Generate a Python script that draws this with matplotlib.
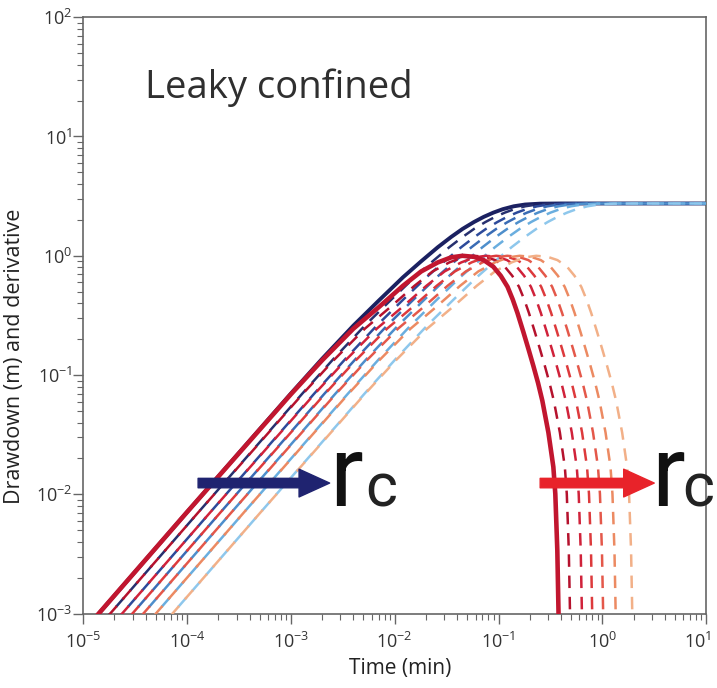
import matplotlib
matplotlib.use("Agg")
import matplotlib.pyplot as plt
from matplotlib.patches import FancyArrowPatch
from matplotlib.ticker import FixedLocator, LogLocator, NullFormatter
from matplotlib.transforms import ScaledTranslation

plt.rcParams['font.family'] = ['Open Sans', 'DejaVu Sans']
plt.rcParams['mathtext.fontset'] = 'custom'
plt.rcParams['mathtext.rm'] = 'Open Sans'
plt.rcParams['mathtext.it'] = 'Open Sans:italic'
plt.rcParams['mathtext.bf'] = 'Open Sans:bold'

# reference curve (smallest rc): drawdown
time_s = [1.0e-5, 1.0e-4, 1.0e-3, 2.0e-3, 4.0e-3, 7.0e-3, 1.2e-2, 1.8e-2, 2.6e-2,
          3.5e-2, 4.5e-2, 5.8e-2, 7.2e-2, 8.9e-2, 0.11, 0.14, 0.18, 0.25, 0.4, 10.0]
drawdown = [7.1e-4, 7.1e-3, 0.070, 0.137, 0.26, 0.42, 0.66, 0.90, 1.18,
            1.44, 1.68, 1.92, 2.12, 2.30, 2.46, 2.60, 2.69, 2.735, 2.745, 2.745]

# reference curve (smallest rc): derivative
time_d = [1.0e-5, 1.0e-4, 1.0e-3, 2.0e-3, 4.0e-3, 7.0e-3, 1.2e-2, 1.8e-2, 2.6e-2,
          3.5e-2, 4.5e-2, 5.8e-2, 7.2e-2, 8.9e-2, 0.105, 0.122, 0.137, 0.152,
          0.173, 0.195, 0.216, 0.24, 0.264, 0.302, 0.337, 0.352, 0.368, 0.38]
derivative = [7.1e-4, 7.1e-3, 0.069, 0.133, 0.245, 0.37, 0.56, 0.74, 0.88,
              0.97, 1.0, 0.98, 0.92, 0.81, 0.68, 0.55, 0.43, 0.332,
              0.231, 0.163, 0.12, 0.086, 0.061, 0.033, 0.017, 0.0101, 0.0034, 0.0008]

# larger rc -> curves delayed in time (factor)
rc_time_factor = [1.29, 1.68, 2.11, 2.69, 3.55, 5.13]
blues = ['#27306f', '#2d4a9a', '#3a6cb5', '#4e8fcc', '#6aaedf', '#8ec7ec']
reds = ['#b5122d', '#d0223a', '#dd3a3c', '#e4584a', '#ec8a62', '#f2b088']

x_ticks = [1e-5, 1e-4, 1e-3, 1e-2, 1e-1, 1e0, 1e1]
y_ticks = [1e-3, 1e-2, 1e-1, 1e0, 1e1, 1e2]

fig = plt.figure(figsize=(7.17, 6.88), dpi=100)
ax = fig.add_axes([0.116, 0.108, 0.869, 0.867])

ax.plot(time_s, drawdown, color='#1b2161', lw=2.8, zorder=2, solid_capstyle='butt')
for f, c in zip(rc_time_factor, blues):
    ax.plot([t * f for t in time_s], drawdown, color=c, lw=1.8,
            linestyle=(4, (5, 3.5)), zorder=3)
for f, c in zip(rc_time_factor, reds):
    ax.plot([t * f for t in time_d], derivative, color=c, lw=1.8,
            linestyle=(0, (5, 3.5)), zorder=3)
ax.plot(time_d, derivative, color='#c1162f', lw=3.3, zorder=4, solid_capstyle='butt')

ax.set_xscale('log')
ax.set_yscale('log')
ax.set_xlim(1e-5, 1e1)
ax.set_ylim(1e-3, 1e2)

ax.xaxis.set_major_locator(FixedLocator(x_ticks))
ax.yaxis.set_major_locator(FixedLocator(y_ticks))
for a in (ax.xaxis, ax.yaxis):
    a.set_minor_locator(LogLocator(base=10, subs=range(2, 10), numticks=20))
    a.set_minor_formatter(NullFormatter())

for s in ax.spines.values():
    s.set_color('#666666')
    s.set_linewidth(1.2)
ax.tick_params(which='both', direction='out', color='#666666', top=False, right=False)
ax.tick_params(which='major', length=7, width=1.0, labelsize=13, labelcolor='#333333')
ax.tick_params(which='minor', length=4.5, width=0.8)
ax.tick_params(axis='x', which='major', pad=6)
ax.tick_params(axis='y', which='major', pad=1)

ax.set_xlabel('Time (min)', fontsize=15, color='#222222')
ax.set_ylabel('Drawdown (m) and derivative', fontsize=15.5, color='#222222')
ax.xaxis.set_label_coords(0.508, -0.074)
ax.yaxis.set_label_coords(-0.093, 0.432)

ax.text(0.10, 0.864, 'Leaky confined', transform=ax.transAxes, fontsize=27.5,
        color='#2f2f2f', va='baseline', ha='left')

# rc arrows
for x0, x1, col in [(0.18, 0.40, '#1f2370'), (0.729, 0.921, '#e8232a')]:
    arr = FancyArrowPatch((x0, 0.219), (x1, 0.219), transform=ax.transAxes,
                          arrowstyle='simple,head_length=1.1,head_width=1.0,tail_width=0.34',
                          mutation_scale=20, color=col, zorder=6, clip_on=False)
    ax.add_patch(arr)

for xr, xc in [(0.395, 0.452), (0.912, 0.962)]:
    ax.text(xr, 0.180, 'r', transform=ax.transAxes, fontsize=72, color='#111111',
            family='Roboto', va='baseline', ha='left', zorder=7, clip_on=False)
    ax.text(xc, 0.180, 'c', transform=ax.transAxes, fontsize=44, color='#222222',
            family='Roboto', va='baseline', ha='left', zorder=7, clip_on=False)

# keep the last x tick label inside the figure
fig.canvas.draw()
last = ax.get_xticklabels()[-1]
last.set_transform(last.get_transform() + ScaledTranslation(-6 / 72, 0, fig.dpi_scale_trans))

fig.savefig('out.png', dpi=100)
